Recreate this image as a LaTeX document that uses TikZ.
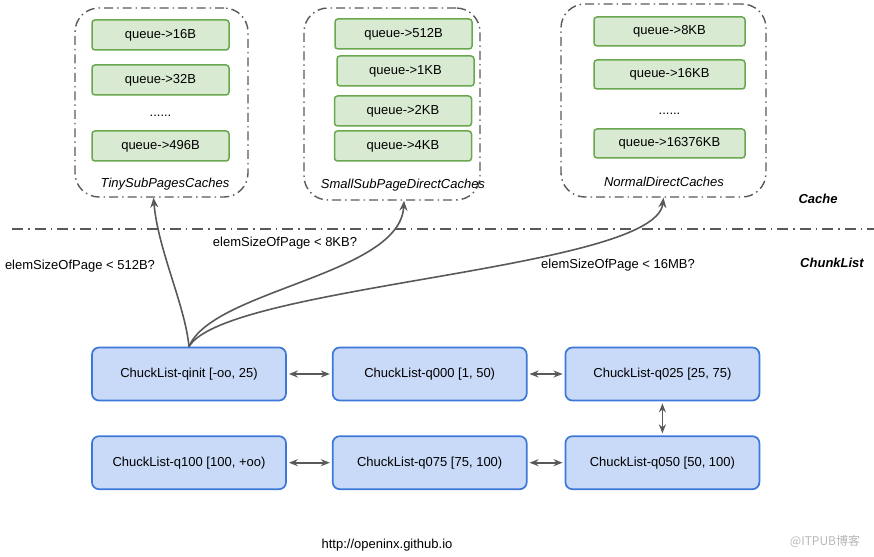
\documentclass[tikz,border=0pt]{standalone}
\usepackage{fontspec}
\setmainfont{Liberation Sans}
\newfontfamily\cjkfont{Noto Sans CJK SC}
\usetikzlibrary{arrows.meta,positioning}
\definecolor{qfill}{HTML}{D9EAD3}
\definecolor{qborder}{HTML}{6AA84F}
\definecolor{cfill}{HTML}{C9DAF8}
\definecolor{cborder}{HTML}{3C78D8}
\definecolor{linegray}{HTML}{595959}
\definecolor{wmark}{HTML}{B7B7B7}

\begin{document}
\begin{tikzpicture}[x=1pt, y=-1pt, font=\fontsize{13}{15}\selectfont,
  qbox/.style={draw=qborder, fill=qfill, line width=1.5pt, rounded corners=3pt, minimum width=137pt, minimum height=30pt, inner sep=0pt},
  group/.style={draw=linegray, line width=1.4pt, dash pattern=on 9pt off 4pt on 1.5pt off 4pt, rounded corners=24pt, inner sep=0pt},
  chunk/.style={draw=cborder, fill=cfill, line width=1.7pt, rounded corners=7pt, minimum width=194pt, minimum height=53pt, inner sep=0pt},
  glabel/.style={font=\fontsize{13}{15}\selectfont\itshape},
  layer/.style={font=\fontsize{13}{15}\selectfont\bfseries\itshape},
  link/.style={{Stealth[length=9pt,width=7pt]}-{Stealth[length=9pt,width=7pt]}, line width=1.6pt, color=linegray, shorten <=2pt, shorten >=2pt},
  check/.style={-{Stealth[length=10pt,width=8pt]}, line width=1.6pt, color=linegray},
]
  \useasboundingbox (0,0) rectangle (874,556);

  % cache groups
  \node[group, minimum width=173pt, minimum height=189pt] (tiny) at (161.5,102.5) {};
  \node[group, minimum width=176pt, minimum height=192pt] (small) at (392,104) {};
  \node[group, minimum width=205pt, minimum height=193pt] (normal) at (663.5,100.5) {};

  \node[qbox] (t16) at (160.5,35) {queue->16B};
  \node[qbox] (t32) at (160.5,80) {queue->32B};
  \node (tdots) at (160.5,116) {......};
  \node[qbox] (t496) at (160.5,146) {queue->496B};
  \node[glabel] (tinylbl) at (165,184) {TinySubPagesCaches};

  \node[qbox] (s512) at (403.5,34) {queue->512B};
  \node[qbox] (s1k) at (405.5,71) {queue->1KB};
  \node[qbox] (s2k) at (403,111) {queue->2KB};
  \node[qbox] (s4k) at (403,146) {queue->4KB};
  \node[glabel] (smalllbl) at (403,185) {SmallSubPageDirectCaches};

  \node[qbox, minimum width=151pt, minimum height=29pt] (n8k) at (669.5,31.5) {queue->8KB};
  \node[qbox, minimum width=151pt, minimum height=29pt] (n16k) at (669.5,74.5) {queue->16KB};
  \node (ndots) at (669.5,114) {......};
  \node[qbox, minimum width=151pt, minimum height=29pt] (n16376k) at (669.5,143.5) {queue->16376KB};
  \node[glabel] (normallbl) at (664,182) {NormalDirectCaches};

  % layers
  \coordinate (sepl) at (12,229);
  \coordinate (sepr) at (874,229);
  \draw[draw=linegray, line width=1.5pt, dash pattern=on 11pt off 5pt on 1.5pt off 5pt] (sepl) -- (sepr);
  \node[layer] (cachelbl) at (818,199) {Cache};
  \node[layer] (chunklbl) at (832,263) {ChunkList};

  % chunk lists
  \node[chunk] (qinit) at (189,374) {ChuckList-qinit [-oo, 25)};
  \node[chunk, right=45pt of qinit] (q000) {ChuckList-q000 [1, 50)};
  \node[chunk, right=37pt of q000] (q025) {ChuckList-q025 [25, 75)};
  \node[chunk, below=34pt of qinit] (q100) {ChuckList-q100 [100, +oo)};
  \node[chunk, right=45pt of q100] (q075) {ChuckList-q075 [75, 100)};
  \node[chunk, right=37pt of q075] (q050) {ChuckList-q050 [50, 100)};

  \draw[link] (qinit) -- (q000);
  \draw[link] (q000) -- (q025);
  \draw[link] (q025) -- (q050);
  \draw[link] (q100) -- (q075);
  \draw[link] (q075) -- (q050);

  % size checks
  \node (c512) at (80,266) {elemSizeOfPage < 512B?};
  \node (c8k) at (285,243) {elemSizeOfPage < 8KB?};
  \node (c16m) at (618,265) {elemSizeOfPage < 16MB?};

  \draw[check] (qinit.north) .. controls (185,305) and (158,250) .. ([xshift=-8pt]tiny.south);
  \draw[check] (qinit.north) .. controls (212,290) and (400,275) .. ([xshift=12pt]small.south);
  \draw[check] (qinit.north) .. controls (225,285) and (655,270) .. (normal.south);

  \node (url) at (387,545) {http://openinx.github.io};
  \node[text=wmark, font=\fontsize{12}{14}\selectfont] (wm) at (825,541) {\cjkfont @ITPUB博客};
\end{tikzpicture}
\end{document}
